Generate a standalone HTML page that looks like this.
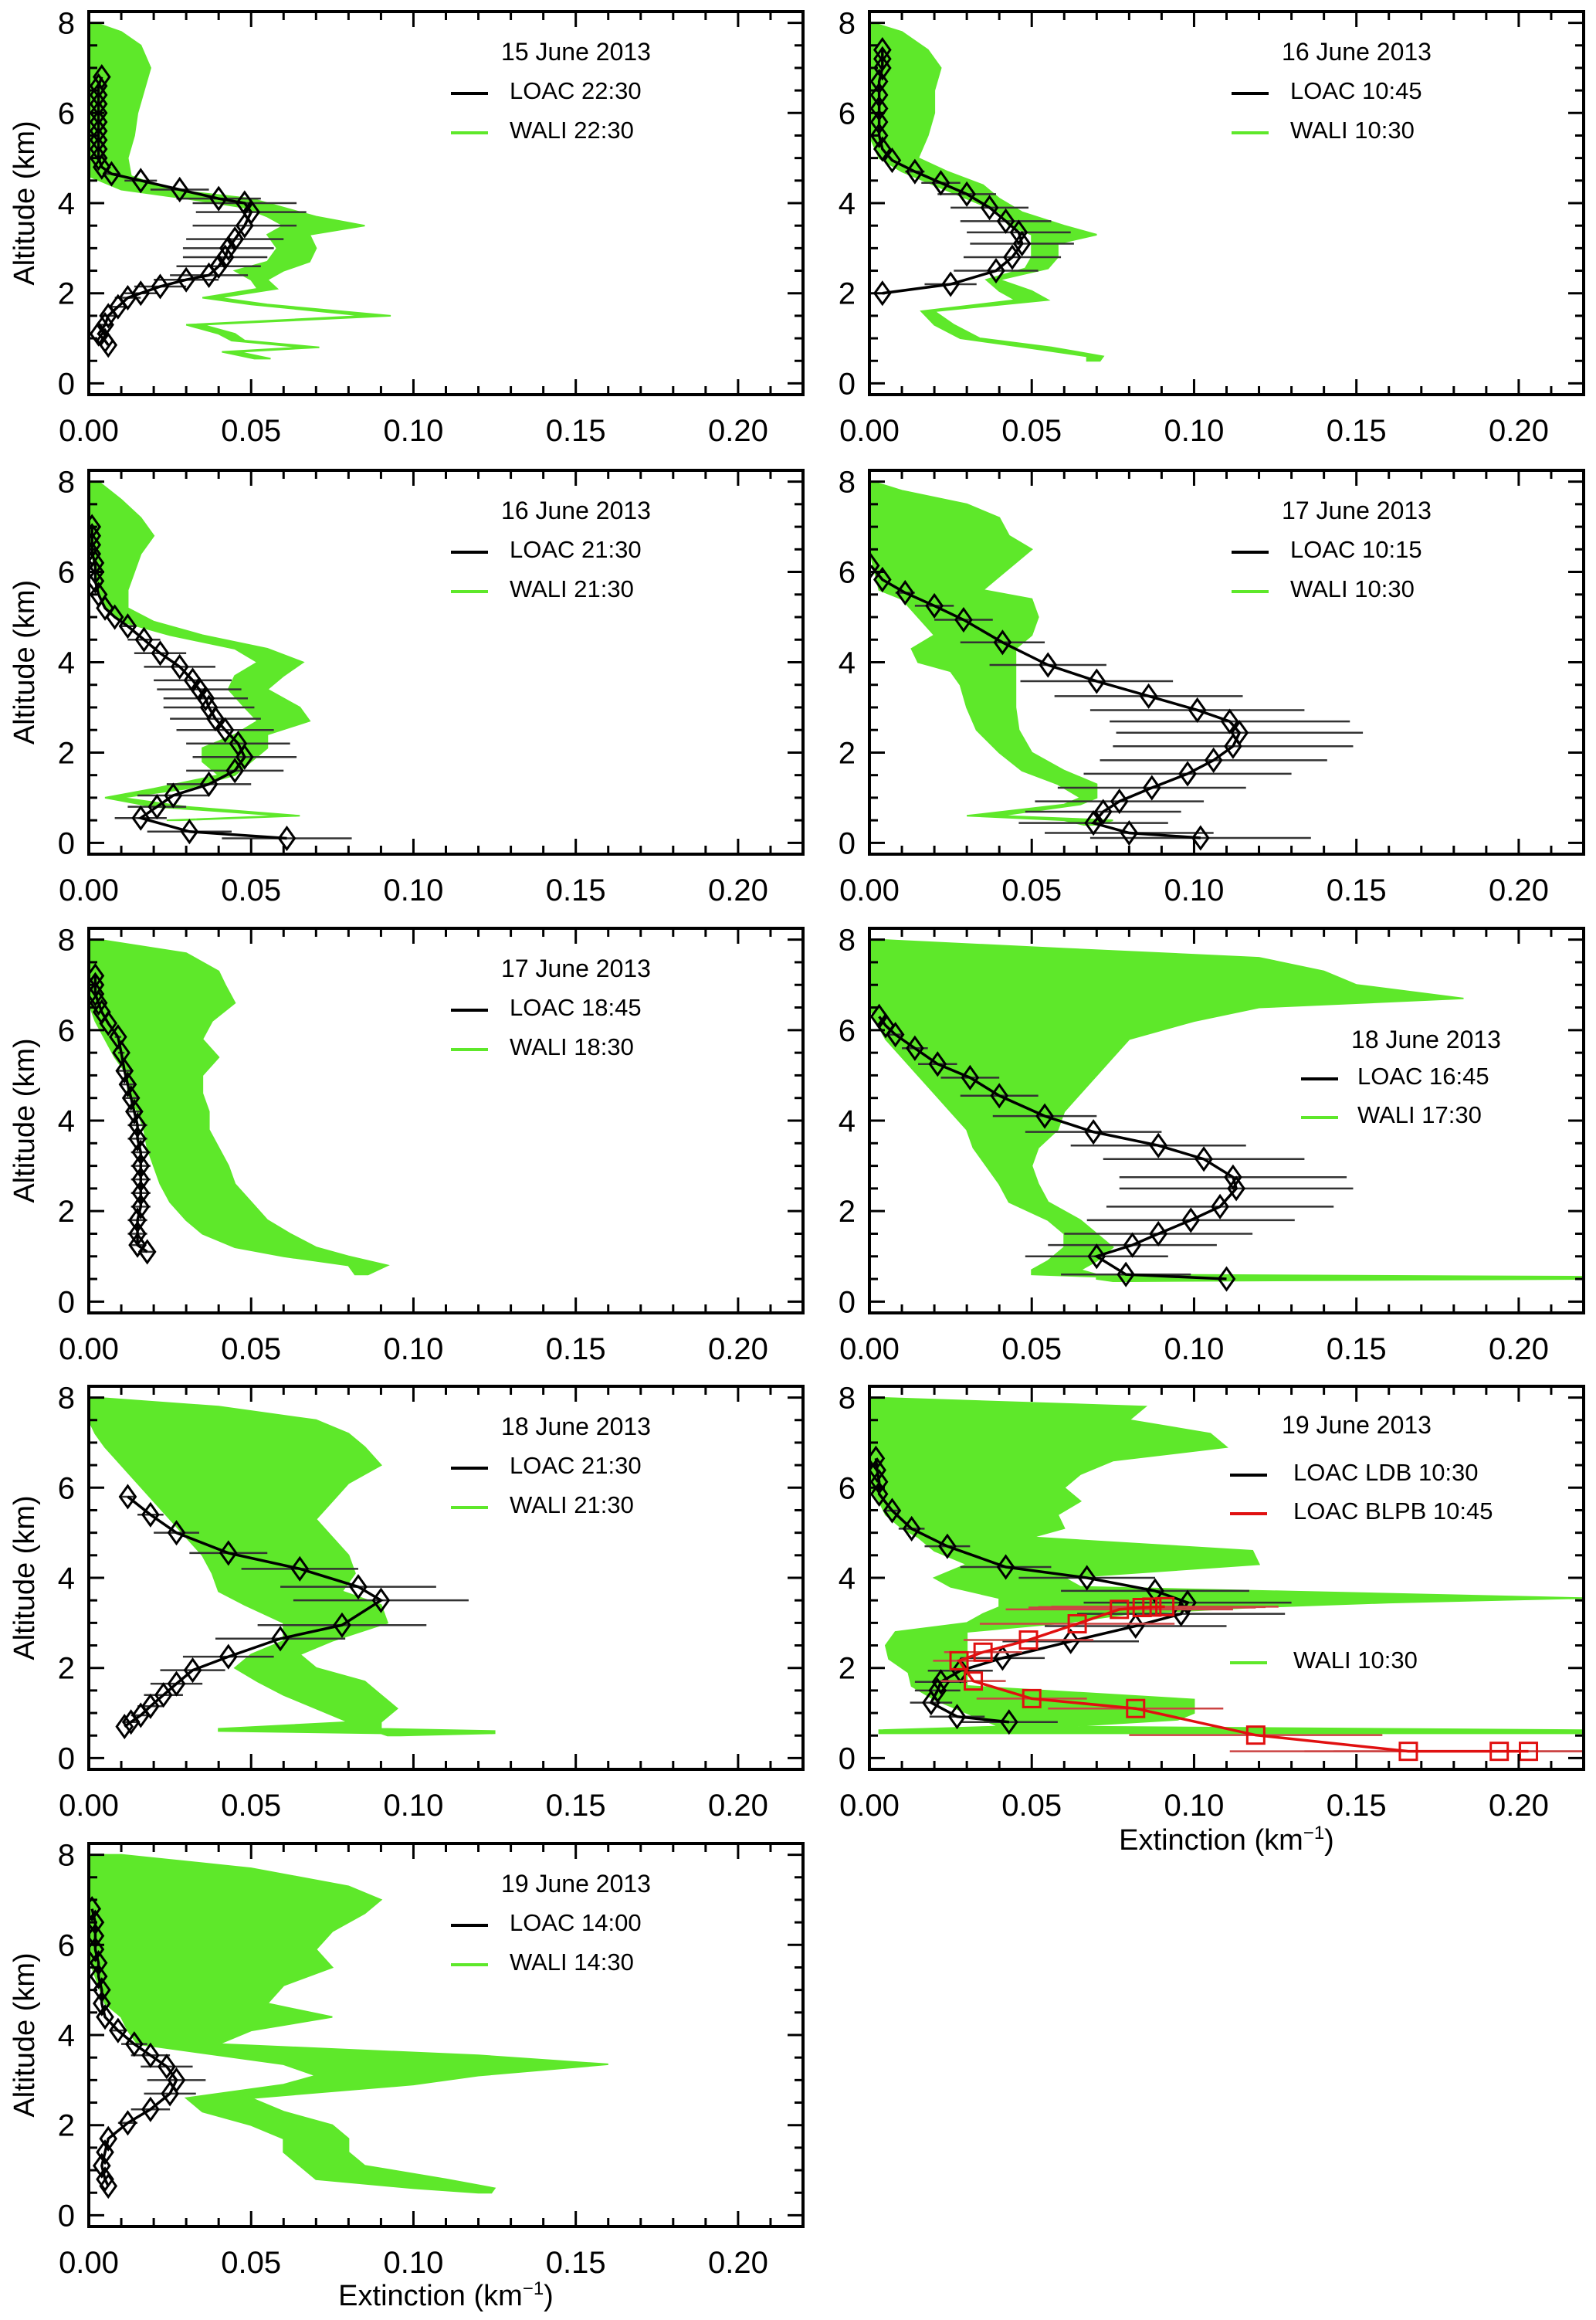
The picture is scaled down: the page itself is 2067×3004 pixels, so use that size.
<!DOCTYPE html>
<html><head><meta charset="utf-8">
<style>
html,body{margin:0;padding:0;background:#fff;}
svg text{font-family:"Liberation Sans",sans-serif;fill:#000;}
</style></head>
<body>
<svg id="fig" width="2067" height="2999" viewBox="0 0 2067 2999" xmlns="http://www.w3.org/2000/svg"></svg>
<script>
// ---------- data ----------
// Panel 1: 15 June 2013
const p1LoacAlt=[6.8,6.6,6.4,6.2,6.0,5.8,5.6,5.4,5.2,5.0,4.8,4.65,4.5,4.3,4.1,4.0,3.8,3.5,3.2,3.0,2.8,2.6,2.4,2.3,2.15,2.0,1.9,1.7,1.5,1.3,1.1,0.95,0.85];
const p1LoacExt=[0.004,0.003,0.003,0.003,0.003,0.003,0.003,0.003,0.003,0.003,0.004,0.007,0.016,0.028,0.040,0.048,0.050,0.048,0.045,0.043,0.042,0.040,0.037,0.030,0.022,0.016,0.012,0.009,0.006,0.005,0.003,0.005,0.006];
const p1LoacErr=[0,0,0,0,0,0,0,0,0,0,0,0.002,0.005,0.009,0.013,0.016,0.017,0.016,0.015,0.014,0.013,0.013,0.012,0.01,0.008,0.005,0.004,0.003,0.002,0.002,0,0,0];
const p1WaliAlt=[8.0,7.8,7.5,7.0,6.5,6.0,5.5,5.0,4.6,4.3,4.1,3.9,3.7,3.5,3.3,3.0,2.7,2.5,2.3,2.1,1.9,1.75,1.5,1.3,1.1,0.95,0.8,0.7,0.55];
const p1WaliLo=[0,0,0,0,0,0,0,0,0,0.01,0.03,0.048,0.055,0.06,0.055,0.058,0.055,0.045,0.05,0.052,0.035,0.05,0.085,0.03,0.04,0.044,0.066,0.041,0.051];
const p1WaliHi=[0.002,0.01,0.016,0.019,0.017,0.015,0.014,0.012,0.013,0.025,0.05,0.06,0.07,0.085,0.068,0.07,0.068,0.06,0.055,0.058,0.04,0.055,0.093,0.035,0.045,0.048,0.071,0.046,0.056];
// Panel 2: 16 June 2013 10:45
const p2LoacAlt=[7.4,7.2,7.0,6.7,6.4,6.1,5.8,5.5,5.2,4.95,4.7,4.45,4.2,3.9,3.6,3.35,3.1,2.8,2.5,2.2,2.0];
const p2LoacExt=[0.004,0.004,0.004,0.003,0.003,0.003,0.003,0.003,0.004,0.007,0.014,0.022,0.030,0.037,0.042,0.046,0.047,0.044,0.039,0.025,0.004];
const p2LoacErr=[0,0,0,0,0,0,0,0,0,0,0.003,0.006,0.009,0.012,0.014,0.016,0.016,0.015,0.013,0.008,0];
const p2WaliAlt=[8.0,7.8,7.4,7.0,6.5,6.0,5.5,5.0,4.7,4.4,4.1,3.8,3.5,3.3,3.1,2.8,2.55,2.3,2.05,1.85,1.6,1.3,1.0,0.8,0.6,0.5];
const p2WaliLo=[0,0,0,0,0,0,0,0.003,0.01,0.02,0.03,0.04,0.043,0.05,0.05,0.05,0.048,0.036,0.04,0.045,0.016,0.02,0.028,0.048,0.067,0.067];
const p2WaliHi=[0.001,0.01,0.018,0.022,0.02,0.02,0.018,0.015,0.024,0.035,0.04,0.047,0.06,0.07,0.058,0.058,0.055,0.04,0.05,0.055,0.02,0.026,0.034,0.056,0.072,0.071];
// Panel 3: 16 June 2013 21:30
const p3LoacAlt=[7.0,6.8,6.6,6.4,6.2,6.0,5.8,5.5,5.2,5.0,4.8,4.5,4.2,3.9,3.6,3.4,3.2,3.0,2.75,2.5,2.2,1.9,1.6,1.3,1.05,0.8,0.55,0.25,0.1];
const p3LoacExt=[0.001,0.001,0.001,0.001,0.002,0.002,0.002,0.003,0.005,0.008,0.012,0.017,0.022,0.028,0.032,0.034,0.036,0.037,0.039,0.042,0.046,0.048,0.045,0.037,0.026,0.021,0.016,0.031,0.061];
const p3LoacErr=[0,0,0,0,0,0,0,0,0,0,0.002,0.005,0.008,0.011,0.012,0.013,0.013,0.014,0.014,0.015,0.016,0.016,0.015,0.013,0.011,0.009,0.008,0.013,0.02];
const p3WaliAlt=[8.0,7.6,7.2,6.8,6.4,6.0,5.6,5.2,4.9,4.6,4.3,4.0,3.7,3.4,3.0,2.7,2.4,2.1,1.8,1.5,1.2,1.0,0.8,0.6,0.5];
const p3WaliLo=[0,0,0,0,0.001,0.002,0.003,0.005,0.01,0.025,0.045,0.052,0.045,0.043,0.048,0.052,0.045,0.035,0.035,0.04,0.02,0.005,0.02,0.06,0.024];
const p3WaliHi=[0.003,0.01,0.016,0.02,0.016,0.014,0.012,0.012,0.02,0.035,0.055,0.066,0.06,0.055,0.065,0.068,0.055,0.055,0.05,0.045,0.03,0.01,0.03,0.065,0.028];
// Panel 4: 17 June 2013 10:15
const p4LoacAlt=[6.14,5.83,5.54,5.25,4.94,4.44,3.94,3.58,3.25,2.94,2.69,2.44,2.14,1.83,1.53,1.22,0.92,0.69,0.44,0.22,0.11];
const p4LoacExt=[0.0004,0.004,0.011,0.020,0.029,0.041,0.055,0.070,0.086,0.101,0.111,0.114,0.112,0.106,0.098,0.087,0.077,0.072,0.069,0.080,0.102];
const p4LoacErr=[0,0,0.003,0.006,0.009,0.013,0.018,0.0235,0.029,0.033,0.037,0.038,0.037,0.035,0.032,0.029,0.026,0.024,0.023,0.026,0.034];
const p4WaliAlt=[8.0,7.8,7.5,7.2,6.8,6.5,6.2,5.9,5.6,5.4,5.0,4.6,4.3,4.0,3.8,3.5,3.0,2.5,2.0,1.6,1.3,1.0,0.85,0.6,0.5,0.4];
const p4WaliLo=[0,0,0,0,0,0,0.001,0.002,0.003,0.01,0.015,0.02,0.013,0.015,0.025,0.028,0.03,0.033,0.04,0.047,0.058,0.065,0.06,0.03,0.06,0.066];
const p4WaliHi=[0.001,0.01,0.03,0.04,0.043,0.05,0.045,0.04,0.035,0.05,0.052,0.05,0.045,0.045,0.045,0.045,0.045,0.046,0.05,0.06,0.07,0.07,0.065,0.04,0.075,0.07];
// Panel 5: 17 June 2013 18:45
const p5LoacAlt=[7.2,7.0,6.8,6.6,6.4,6.15,5.85,5.5,5.1,4.8,4.5,4.2,3.9,3.6,3.3,3.0,2.7,2.4,2.1,1.8,1.5,1.25,1.1];
const p5LoacExt=[0.002,0.002,0.002,0.003,0.004,0.006,0.009,0.010,0.011,0.012,0.013,0.014,0.015,0.015,0.016,0.016,0.016,0.016,0.016,0.015,0.015,0.015,0.018];
const p5LoacErr=[0,0,0,0,0,0,0.001,0.001,0.002,0.002,0.002,0.002,0.003,0.003,0.003,0.003,0.003,0.003,0.003,0.003,0.003,0.002,0.002];
const p5WaliAlt=[8.0,7.7,7.3,7.0,6.6,6.2,5.8,5.4,5.0,4.6,4.2,3.8,3.4,3.0,2.6,2.2,1.8,1.5,1.2,1.0,0.8,0.6];
const p5WaliLo=[0,0,0,0,0,0.002,0.005,0.008,0.012,0.012,0.015,0.017,0.018,0.02,0.022,0.025,0.03,0.035,0.045,0.06,0.08,0.082];
const p5WaliHi=[0.003,0.03,0.04,0.042,0.045,0.038,0.035,0.04,0.035,0.035,0.037,0.037,0.04,0.043,0.045,0.05,0.055,0.062,0.07,0.08,0.092,0.086];
// Panel 6: 18 June 2013 16:45
const p6LoacAlt=[6.3,6.1,5.9,5.6,5.25,4.95,4.55,4.1,3.75,3.45,3.15,2.75,2.5,2.1,1.8,1.5,1.25,1.0,0.6,0.5];
const p6LoacExt=[0.003,0.005,0.008,0.014,0.021,0.031,0.040,0.054,0.069,0.089,0.103,0.112,0.113,0.108,0.099,0.089,0.081,0.070,0.079,0.110];
const p6LoacErr=[0,0,0.002,0.004,0.006,0.009,0.012,0.016,0.021,0.027,0.031,0.035,0.036,0.035,0.032,0.029,0.026,0.022,0.02,0];
const p6WaliAlt=[8.0,7.8,7.6,7.3,7.0,6.7,6.5,6.2,5.8,5.4,5.0,4.6,4.2,3.8,3.4,3.0,2.6,2.2,1.8,1.5,1.2,0.9,0.7,0.6,0.55,0.5,0.45];
const p6WaliLo=[0,0,0,0,0,0,0,0.002,0.005,0.01,0.015,0.02,0.025,0.03,0.032,0.036,0.04,0.043,0.055,0.06,0.06,0.055,0.05,0.05,0.07,0.07,0.075];
const p6WaliHi=[0.002,0.06,0.12,0.14,0.15,0.183,0.12,0.1,0.08,0.075,0.07,0.065,0.06,0.058,0.052,0.05,0.052,0.055,0.065,0.07,0.075,0.07,0.065,0.07,0.22,0.22,0.08];
// Panel 7: 18 June 2013 21:30
const p7LoacAlt=[5.8,5.4,5.0,4.55,4.2,3.8,3.5,2.95,2.65,2.25,1.95,1.65,1.4,1.15,0.95,0.8,0.7];
const p7LoacExt=[0.012,0.019,0.027,0.043,0.065,0.083,0.090,0.078,0.059,0.043,0.032,0.027,0.023,0.019,0.016,0.013,0.011];
const p7LoacErr=[0.002,0.004,0.007,0.012,0.018,0.024,0.027,0.026,0.02,0.014,0.01,0.008,0.006,0.004,0.003,0.002,0];
const p7WaliAlt=[8.0,7.8,7.5,7.2,6.9,6.5,6.1,5.7,5.3,4.9,4.5,4.1,3.7,3.4,3.0,2.6,2.3,2.0,1.7,1.4,1.1,0.8,0.65,0.6,0.55,0.5];
const p7WaliLo=[0,0,0,0.002,0.005,0.01,0.015,0.02,0.025,0.03,0.035,0.038,0.04,0.048,0.06,0.06,0.05,0.045,0.052,0.06,0.07,0.08,0.04,0.04,0.09,0.092];
const p7WaliHi=[0.002,0.04,0.07,0.08,0.085,0.09,0.08,0.075,0.07,0.075,0.08,0.082,0.078,0.09,0.092,0.075,0.065,0.07,0.085,0.09,0.095,0.09,0.09,0.125,0.125,0.096];
// Panel 8: 19 June 2013 10:30 (LDB) + BLPB 10:45
const p8LoacAlt=[6.65,6.39,6.13,5.86,5.49,5.09,4.70,4.24,4.0,3.71,3.45,3.2,2.93,2.59,2.22,1.94,1.69,1.50,1.23,0.92,0.80];
const p8LoacExt=[0.002,0.0024,0.003,0.003,0.007,0.013,0.024,0.042,0.067,0.088,0.098,0.096,0.082,0.062,0.041,0.028,0.022,0.021,0.019,0.027,0.043];
const p8LoacErr=[0,0,0,0,0.002,0.004,0.007,0.014,0.021,0.029,0.032,0.032,0.028,0.021,0.013,0.01,0.008,0.007,0.0065,0.0085,0.015];
const p8BlpbAlt=[3.36,3.35,3.34,3.30,2.98,2.62,2.35,2.16,1.71,1.32,1.10,0.51,0.15,0.15,0.15];
const p8BlpbExt=[0.091,0.087,0.084,0.077,0.064,0.049,0.035,0.0276,0.032,0.050,0.082,0.119,0.166,0.194,0.203];
const p8BlpbErr=[0.035,0.035,0.035,0.035,0.03,0.02,0.012,0.008,0.01,0.017,0.027,0.039,0.055,0.06,0.06];
const p8WaliAlt=[8.0,7.8,7.5,7.2,6.9,6.6,6.3,6.0,5.7,5.4,5.1,4.9,4.6,4.3,4.0,3.8,3.55,3.45,3.35,3.2,3.0,2.8,2.5,2.2,1.9,1.6,1.3,1.0,0.85,0.7,0.62,0.55];
const p8WaliLo=[0,0,0,0,0,0,0,0,0.003,0.005,0.01,0.015,0.02,0.03,0.02,0.025,0.04,0.04,0.04,0.035,0.03,0.008,0.005,0.006,0.012,0.013,0.02,0.03,0.035,0.04,0.003,0.003];
const p8WaliHi=[0.001,0.085,0.08,0.105,0.11,0.075,0.065,0.06,0.065,0.058,0.06,0.05,0.118,0.12,0.06,0.065,0.22,0.16,0.12,0.08,0.06,0.03,0.03,0.03,0.03,0.03,0.1,0.1,0.095,0.06,0.22,0.22];
// Panel 9: 19 June 2013 14:00
const p9LoacAlt=[6.8,6.5,6.2,5.9,5.6,5.3,5.0,4.7,4.4,4.1,3.8,3.55,3.3,3.0,2.7,2.35,2.05,1.7,1.4,1.1,0.8,0.65];
const p9LoacExt=[0.001,0.002,0.002,0.002,0.003,0.003,0.004,0.004,0.005,0.009,0.014,0.019,0.024,0.027,0.025,0.019,0.012,0.006,0.005,0.004,0.005,0.006];
const p9LoacErr=[0,0,0,0,0,0,0,0,0,0.002,0.004,0.006,0.008,0.009,0.008,0.006,0.003,0,0,0,0,0];
const p9WaliAlt=[8.0,7.7,7.3,7.0,6.7,6.3,5.9,5.5,5.1,4.7,4.4,4.1,3.8,3.55,3.35,3.1,2.9,2.6,2.3,2.0,1.7,1.4,1.1,0.8,0.6,0.5];
const p9WaliLo=[0,0,0,0,0,0,0,0.001,0.003,0.005,0.01,0.012,0.015,0.04,0.06,0.07,0.06,0.03,0.035,0.05,0.06,0.06,0.065,0.07,0.1,0.12];
const p9WaliHi=[0.01,0.05,0.08,0.09,0.085,0.075,0.07,0.075,0.06,0.055,0.075,0.05,0.04,0.12,0.16,0.12,0.1,0.05,0.06,0.075,0.08,0.08,0.085,0.11,0.125,0.124];

const xTicks=[0,0.05,0.10,0.15,0.20];
const xTickLabels=["0.00","0.05","0.10","0.15","0.20"];
const yTicks=[0,2,4,6,8];
const yTickLabels=["0","2","4","6","8"];

// ---------- drawing ----------
const NS="http://www.w3.org/2000/svg";
const svg=document.getElementById('fig');
function mk(tag,attrs,parent){const e=document.createElementNS(NS,tag);for(const k in attrs)e.setAttribute(k,attrs[k]);(parent||svg).appendChild(e);return e;}

const colX=[115,1126], colW=925;
const rowY=[[15,511],[609,1106],[1202,1700],[1795,2291],[2387,2883]];
const XMAX=0.22, YMIN=-0.25, YMAX=8.25;

const panels=[
 {c:0,r:0,date:"15 June 2013",loac:"LOAC 22:30",wali:"WALI 22:30",A:p1LoacAlt,E:p1LoacExt,R:p1LoacErr,WA:p1WaliAlt,WL:p1WaliLo,WH:p1WaliHi,leg:0},
 {c:1,r:0,date:"16 June 2013",loac:"LOAC 10:45",wali:"WALI 10:30",A:p2LoacAlt,E:p2LoacExt,R:p2LoacErr,WA:p2WaliAlt,WL:p2WaliLo,WH:p2WaliHi,leg:0},
 {c:0,r:1,date:"16 June 2013",loac:"LOAC 21:30",wali:"WALI 21:30",A:p3LoacAlt,E:p3LoacExt,R:p3LoacErr,WA:p3WaliAlt,WL:p3WaliLo,WH:p3WaliHi,leg:0},
 {c:1,r:1,date:"17 June 2013",loac:"LOAC 10:15",wali:"WALI 10:30",A:p4LoacAlt,E:p4LoacExt,R:p4LoacErr,WA:p4WaliAlt,WL:p4WaliLo,WH:p4WaliHi,leg:0},
 {c:0,r:2,date:"17 June 2013",loac:"LOAC 18:45",wali:"WALI 18:30",A:p5LoacAlt,E:p5LoacExt,R:p5LoacErr,WA:p5WaliAlt,WL:p5WaliLo,WH:p5WaliHi,leg:0},
 {c:1,r:2,date:"18 June 2013",loac:"LOAC 16:45",wali:"WALI 17:30",A:p6LoacAlt,E:p6LoacExt,R:p6LoacErr,WA:p6WaliAlt,WL:p6WaliLo,WH:p6WaliHi,leg:1},
 {c:0,r:3,date:"18 June 2013",loac:"LOAC 21:30",wali:"WALI 21:30",A:p7LoacAlt,E:p7LoacExt,R:p7LoacErr,WA:p7WaliAlt,WL:p7WaliLo,WH:p7WaliHi,leg:0},
 {c:1,r:3,date:"19 June 2013",loac:"LOAC LDB 10:30",wali:"WALI 10:30",A:p8LoacAlt,E:p8LoacExt,R:p8LoacErr,WA:p8WaliAlt,WL:p8WaliLo,WH:p8WaliHi,leg:2,
   BA:p8BlpbAlt,BE:p8BlpbExt,BR:p8BlpbErr,blpb:"LOAC BLPB 10:45"},
 {c:0,r:4,date:"19 June 2013",loac:"LOAC 14:00",wali:"WALI 14:30",A:p9LoacAlt,E:p9LoacExt,R:p9LoacErr,WA:p9WaliAlt,WL:p9WaliLo,WH:p9WaliHi,leg:0},
];

panels.forEach((p,i)=>{
  const x0=colX[p.c], x1=x0+colW, y0=rowY[p.r][0], y1=rowY[p.r][1];
  const xs=v=>x0+Math.min(v,XMAX)/XMAX*(x1-x0);
  const ys=a=>y1-(a-YMIN)/(YMAX-YMIN)*(y1-y0);
  const g=mk('g',{});
  
  
  const cid='clip'+i;
  const cp=mk('clipPath',{id:cid},g); mk('rect',{x:x0,y:y0,width:x1-x0,height:y1-y0},cp);
  // WALI band
  let pts=[];
  for(let k=0;k<p.WA.length;k++) pts.push(xs(p.WH[k])+','+ys(p.WA[k]));
  for(let k=p.WA.length-1;k>=0;k--) pts.push(xs(p.WL[k])+','+ys(p.WA[k]));
  const band=mk('polygon',{points:pts.join(' '),fill:'#5ee82a',stroke:'#5ee82a','stroke-width':2,'clip-path':'url(#'+cid+')'},g);
  
  
  function series(A,E,R,color,sq,name){
    const sg=mk('g',{'clip-path':'url(#'+cid+')'},g);
    
    
    for(let k=0;k<A.length;k++){ if(R[k]>0){
      const eb=mk('line',{x1:xs(E[k]-R[k]),x2:xs(E[k]+R[k]),y1:ys(A[k]),y2:ys(A[k]),stroke:color==='#000'?'#333':'#c44',"stroke-width":2.5},sg);
      
      
    }}
    const lp=A.map((a,k)=>xs(E[k])+','+ys(a)).join(' ');
    const ln=mk('polyline',{points:lp,fill:'none',stroke:color,'stroke-width':3.5},sg);
    
    
    for(let k=0;k<A.length;k++){
      const cx=xs(E[k]), cy=ys(A[k]);
      let m;
      if(sq) m=mk('rect',{x:cx-11,y:cy-11,width:22,height:22,fill:'none',stroke:color,'stroke-width':3},sg);
      else m=mk('polygon',{points:`${cx},${cy-14} ${cx+10},${cy} ${cx},${cy+14} ${cx-10},${cy}`,fill:'none',stroke:color,'stroke-width':3},sg);
      
      
    }
  }
  series(p.A,p.E,p.R,'#000',false,'loac-profile');
  if(p.BA) series(p.BA,p.BE,p.BR,'#e01010',true,'loac-blpb-profile');
  // frame
  const fr=mk('rect',{x:x0,y:y0,width:x1-x0,height:y1-y0,fill:'none',stroke:'#000','stroke-width':4},g);
  
  
  // ticks
  for(let t=0;t<=22;t++){
    const v=t*0.01, X=xs(v), L=(t%5===0)?20:11;
    mk('line',{x1:X,x2:X,y1:y1,y2:y1-L,stroke:'#000','stroke-width':3},g);
    mk('line',{x1:X,x2:X,y1:y0,y2:y0+L,stroke:'#000','stroke-width':3},g);
  }
  for(let t=0;t<=16;t++){
    const a=t*0.5, Y=ys(a), L=(t%4===0)?20:11;
    mk('line',{x1:x0,x2:x0+L,y1:Y,y2:Y,stroke:'#000','stroke-width':3},g);
    mk('line',{x1:x1,x2:x1-L,y1:Y,y2:Y,stroke:'#000','stroke-width':3},g);
  }
  xTicks.forEach((v,k)=>{
    const t=mk('text',{x:xs(v),y:y1+60,'font-size':40,'text-anchor':'middle'},g);
    t.textContent=xTickLabels[k];
    
    
  });
  yTicks.forEach((v,k)=>{
    const t=mk('text',{x:x0-18,y:ys(v)+14,'font-size':40,'text-anchor':'end'},g);
    t.textContent=yTickLabels[k];
    
    
  });
  if(p.c===0){
    const t=mk('text',{x:0,y:0,'font-size':38,'text-anchor':'middle',transform:`translate(44,${(y0+y1)/2}) rotate(-90)`},g);
    t.textContent='Altitude (km)';
    
    
  }
  // legend
  let dx,dy,lx,tx,rows;
  if(p.leg===0){dx=631;dy=50;lx=469;tx=545;rows=[[p.loac,'#000',102],[p.wali,'#5ee82a',153]];}
  else if(p.leg===1){dx=721;dy=142;lx=559;tx=632;rows=[[p.loac,'#000',191],[p.wali,'#5ee82a',241]];}
  else {dx=631;dy=48;lx=467;tx=549;rows=[[p.loac,'#000',111],[p.blpb,'#e01010',161],[p.wali,'#5ee82a',354]];}
  const lg=mk('g',{},g);
  
  
  const dt=mk('text',{x:x0+dx,y:y0+dy+13,'font-size':32,'text-anchor':'middle'},lg);
  dt.textContent=p.date;
  
  
  rows.forEach(r=>{
    const l=mk('line',{x1:x0+lx,x2:x0+lx+48,y1:y0+r[2]+4,y2:y0+r[2]+4,stroke:r[1],'stroke-width':4},lg);
    
    
    const t=mk('text',{x:x0+tx,y:y0+r[2]+11,'font-size':31},lg);
    t.textContent=r[0];
    
    
  });
});
[[colX[1]+colW/2,2395],[colX[0]+colW/2,2985]].forEach(([x,y])=>{
  const t=mk('text',{x:x,y:y,'font-size':38,'text-anchor':'middle'});
  
  
  t.appendChild(document.createTextNode('Extinction (km'));
  const s=document.createElementNS(NS,'tspan');
  s.setAttribute('dy','-14');s.setAttribute('font-size','24');s.textContent='−1';
  t.appendChild(s);
  const s2=document.createElementNS(NS,'tspan');
  s2.setAttribute('dy','14');s2.textContent=')';
  t.appendChild(s2);
});
</script>
</body></html>
